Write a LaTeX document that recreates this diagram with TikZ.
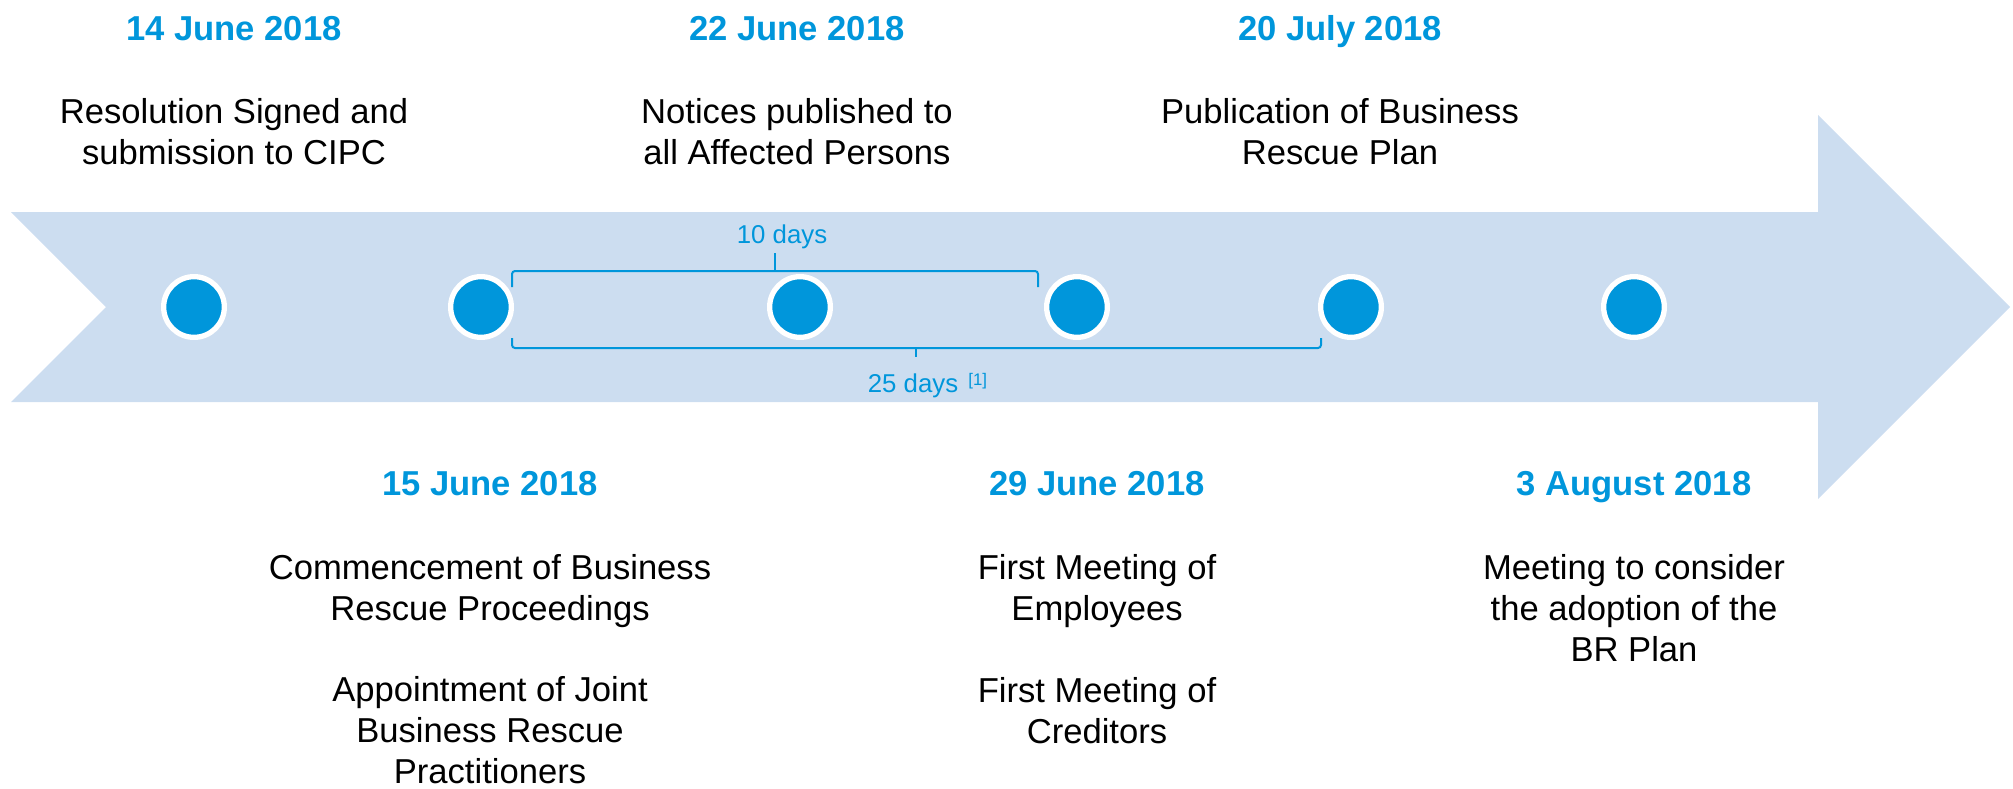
\documentclass[tikz,border=0pt]{standalone}
\usepackage{fontspec}
\setmainfont{Liberation Sans}
\definecolor{tlblue}{RGB}{0,150,219}
\definecolor{bandfill}{RGB}{204,221,240}
\begin{document}
\begin{tikzpicture}[x=0.5pt,y=-0.5pt,
  datetxt/.style={font=\fontsize{17.3}{20.3}\selectfont\bfseries, text=tlblue, inner sep=0pt, anchor=base},
  % multi-line nodes: the base anchor sits on the last line
  bodytxt/.style={font=\fontsize{17.3}{20.3}\selectfont, align=center, inner sep=0pt, anchor=base},
  spantxt/.style={font=\fontsize{12.9}{15}\selectfont, text=tlblue, inner sep=0pt, anchor=base},
  notetxt/.style={font=\fontsize{8.4}{9}\selectfont, text=tlblue, inner sep=0pt, anchor=base west},
  dot/.style={circle, fill=tlblue, draw=white, line width=2.65pt, minimum size=30.35pt, inner sep=0pt},
  spanline/.style={draw=tlblue, line width=1pt, rounded corners=1.5pt}
]
\useasboundingbox (0,0) rectangle (2013,788);

% timeline band with notched tail and arrow head
\fill[bandfill] (11,212) -- (1818,212) -- (1818,115) -- (2010,307)
  -- (1818,499) -- (1818,402) -- (11,402) -- (106,307) -- cycle;

% milestones
\node[dot] (m1) at (194,307) {};
\node[dot] (m2) at (481,307) {};
\node[dot] (m3) at (800,307) {};
\node[dot] (m4) at (1077,307) {};
\node[dot] (m5) at (1351,307) {};
\node[dot] (m6) at (1634,307) {};

% 10-day span
\coordinate (tbL) at (512,287);
\coordinate (tbM) at (775,271);
\coordinate (tbR) at (1038,287);
\coordinate (tbT) at (775,253);
\draw[spanline] (tbL) |- (tbM) -| (tbR);
\draw[spanline] (tbM) -- (tbT);
\node[spantxt] (ten) at (782,243) {10 days};

% 25-day span
\coordinate (bbL) at (512,338);
\coordinate (bbM) at (916,348);
\coordinate (bbR) at (1321,338);
\coordinate (bbT) at (916,357);
\draw[spanline] (bbL) |- (bbM) -| (bbR);
\draw[spanline] (bbM) -- (bbT);
\node[spantxt] (twentyfive) at (913,392) {25 days};
\node[notetxt] (note) at (968,385) {[1]};

% events above the band
\node[datetxt] (d1) at (234,40) {14 June 2018};
\node[bodytxt] (t1) at (234,164) {Resolution Signed and\\submission to CIPC};
\node[datetxt] (d3) at (797,40) {22 June 2018};
\node[bodytxt] (t3) at (797,164) {Notices published to\\all Affected Persons};
\node[datetxt] (d5) at (1340,40) {20 July 2018};
\node[bodytxt] (t5) at (1340,164) {Publication of Business\\Rescue Plan};

% events below the band
\node[datetxt] (d2) at (490,495) {15 June 2018};
\node[bodytxt] (t2a) at (490,620) {Commencement of Business\\Rescue Proceedings};
\node[bodytxt] (t2b) at (490,783) {Appointment of Joint\\Business Rescue\\Practitioners};
\node[datetxt] (d4) at (1097,495) {29 June 2018};
\node[bodytxt] (t4a) at (1097,620) {First Meeting of\\Employees};
\node[bodytxt] (t4b) at (1097,743) {First Meeting of\\Creditors};
\node[datetxt] (d6) at (1634,495) {3 August 2018};
\node[bodytxt] (t6) at (1634,661) {Meeting to consider\\the adoption of the\\BR Plan};
\end{tikzpicture}
\end{document}
